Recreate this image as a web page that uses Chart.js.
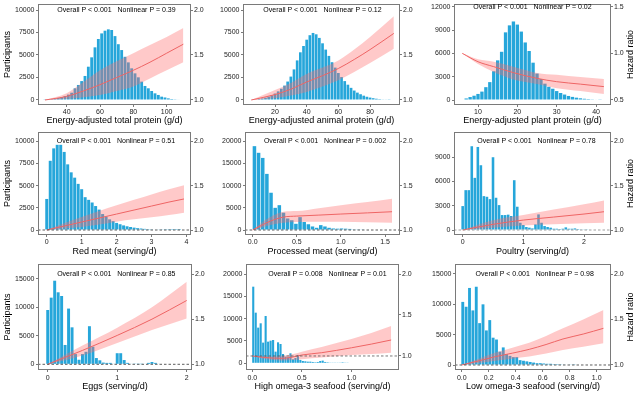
<!DOCTYPE html>
<html>
<head>
<meta charset="utf-8">
<script src="https://cdn.jsdelivr.net/npm/chart.js@4.4.1/dist/chart.umd.min.js"></script>
<style>
  body { margin: 0; background: #fff; }
  #wrap { position: relative; width: 640px; height: 393px; overflow: hidden; background: #fff; }
  canvas { position: absolute; }
</style>
</head>
<body>
<div id="wrap">
  <canvas id="c1"></canvas><canvas id="c2"></canvas><canvas id="c3"></canvas>
  <canvas id="c4"></canvas><canvas id="c5"></canvas><canvas id="c6"></canvas>
  <canvas id="c7"></canvas><canvas id="c8"></canvas><canvas id="c9"></canvas>
</div>
<script>
// ---- data ----
// histogram bins (x) and participants per bin, spline HR with 95% CI

// total protein
const bins1 = [27,29,31,33,35,37,39,41,43,45,47,49,51,53,55,57,59,61,63,65,67,69,71,73,75,77,79,81,83,85,87,89,91,93,95,97,99,101,103,105,107];
const counts1 = [30,60,100,150,220,320,440,600,810,1300,1670,2100,2670,3700,4740,5850,6780,7400,7700,7850,7780,7100,6200,5550,4800,4180,3520,2960,2520,2040,1560,1300,1000,740,560,370,280,180,110,80,50];
const hrX1 = [27,40,50,60,70,80,90,100,110];
const hr1 = [1.0,1.04,1.10,1.17,1.25,1.33,1.42,1.52,1.62];
const hrHi1 = [1.0,1.075,1.20,1.33,1.43,1.52,1.61,1.70,1.80];
const hrLo1 = [1.0,1.01,1.03,1.055,1.10,1.15,1.24,1.33,1.42];

// animal protein
const bins2 = [6,8,10,12,14,16,18,20,22,24,26,28,30,32,34,36,38,40,42,44,46,48,50,52,54,56,58,60,62,64,66,68,70,72,74,76,78,80,82,84,86,88,90,92];
const counts2 = [40,70,110,170,260,370,520,720,960,1250,1600,2050,2600,3400,4400,5300,6000,6700,7200,7450,7300,6900,6300,5600,4900,4200,3600,3000,2550,2100,1700,1350,1050,820,640,480,360,270,200,140,100,70,45,30];
const hrX2 = [5,20,30,40,50,60,70,80,95];
const hr2 = [1.0,1.06,1.12,1.20,1.27,1.35,1.45,1.56,1.74];
const hrHi2 = [1.0,1.11,1.19,1.29,1.36,1.44,1.56,1.70,1.93];
const hrLo2 = [1.0,1.02,1.05,1.09,1.15,1.22,1.31,1.41,1.57];

// plant protein
const bins3 = [7,8,9,10,11,12,13,14,15,16,17,18,19,20,21,22,23,24,25,26,27,28,29,30,31,32,33,34,35,36,37,38,39,40,41];
const counts3 = [200,380,550,780,1080,1650,2300,3700,5100,6200,8700,9600,10100,9700,8800,7400,6300,4800,3400,2700,2100,1700,1450,1150,900,700,520,400,300,220,160,120,90,60,40];
const hrX3 = [6,10,14,19,25,30,36,42];
const hr3 = [1.0,0.91,0.857,0.793,0.732,0.696,0.67,0.643];
const hrHi3 = [1.0,0.936,0.91,0.857,0.79,0.77,0.745,0.725];
const hrLo3 = [1.0,0.886,0.80,0.72,0.67,0.625,0.595,0.564];

// red meat
const bins4 = [0,0.1,0.2,0.3,0.4,0.5,0.6,0.7,0.8,0.9,1.0,1.1,1.2,1.3,1.4,1.5,1.6,1.7,1.8,1.9,2.0,2.1,2.2,2.3,2.4,2.5,2.6,2.7,2.8,2.9,3.0,3.1,3.2,3.3,3.4,3.5,3.6,3.7,3.8];
const counts4 = [3500,7800,9200,9600,9600,8800,7400,6500,5900,5200,4600,3700,3400,3100,2700,2300,1800,1500,1200,1000,800,650,520,420,340,270,210,170,130,100,80,60,45,35,25,18,12,8,5];
const hrX4 = [0,0.5,1,1.5,2,2.5,3,3.5,3.93];
const hr4 = [1.0,1.045,1.09,1.135,1.18,1.225,1.27,1.315,1.35];
const hrHi4 = [1.0,1.075,1.146,1.215,1.28,1.34,1.40,1.46,1.505];
const hrLo4 = [1.0,1.017,1.034,1.062,1.094,1.12,1.145,1.17,1.195];

// processed meat
const bins5 = [0.02,0.067,0.114,0.161,0.208,0.255,0.302,0.349,0.396,0.443,0.49,0.537,0.584,0.631,0.678,0.725,0.772,0.819,0.866,0.913,0.96,1.007,1.054,1.101,1.148,1.195,1.242];
const counts5 = [18900,17400,16250,12650,8400,5000,5600,3900,2600,2200,1400,2900,1800,1300,800,500,1100,800,500,350,300,350,300,250,150,150,80];
const hrX5 = [0,0.1,0.2,0.35,0.5,0.75,1.0,1.3,1.58];
const hr5 = [1.0,1.052,1.10,1.146,1.157,1.168,1.18,1.193,1.206];
const hrHi5 = [1.0,1.082,1.146,1.206,1.213,1.245,1.28,1.315,1.352];
const hrLo5 = [1.0,1.026,1.056,1.082,1.09,1.092,1.094,1.088,1.082];

// poultry
const bins6 = [0,0.05,0.1,0.15,0.2,0.25,0.3,0.35,0.4,0.45,0.5,0.55,0.6,0.65,0.7,0.75,0.8,0.85,0.9,0.95,1.0,1.05,1.1,1.15,1.2,1.25,1.3,1.35,1.4,1.45,1.5,1.55,1.6,1.65,1.7,1.75,1.8,1.85,1.9,1.95,2.0,2.05];
const counts6 = [2960,4930,4930,10360,6450,10270,8010,4190,4110,3820,9000,3990,3080,1850,1850,1900,1730,6160,2880,900,620,370,290,200,700,1930,900,490,370,290,160,160,120,160,330,160,160,200,120,80,80,40];
const hrX6 = [0,0.5,1.0,1.5,2.0,2.33];
const hr6 = [1.0,1.064,1.112,1.146,1.18,1.206];
const hrHi6 = [1.0,1.11,1.169,1.23,1.29,1.333];
const hrLo6 = [1.0,1.026,1.052,1.065,1.075,1.082];

// eggs
const bins7 = [0,0.05,0.1,0.15,0.2,0.25,0.3,0.35,0.4,0.45,0.5,0.55,0.6,0.65,0.7,0.75,0.8,0.85,0.9,0.95,1.0,1.05,1.1,1.15,1.2,1.25,1.3,1.35,1.4,1.45,1.5,1.55,1.6];
const counts7 = [9550,11720,14700,12660,12010,3400,9800,6500,1800,800,1800,2200,6700,3100,1100,700,300,250,250,100,1950,1950,750,250,100,50,30,30,80,250,400,250,80];
const hrX7 = [0,0.5,1.0,1.5,2.0];
const hr7 = [1.0,1.154,1.32,1.5,1.707];
const hrHi7 = [1.0,1.207,1.406,1.632,1.914];
const hrLo7 = [1.0,1.098,1.237,1.38,1.508];

// high omega-3 seafood
const bins8 = [0.01,0.035,0.06,0.085,0.11,0.135,0.16,0.185,0.21,0.235,0.26,0.285,0.31,0.335,0.36,0.385,0.41,0.435,0.46,0.485,0.51,0.535,0.56,0.585,0.61,0.635,0.66,0.685,0.71,0.735,0.76,0.785,0.81,0.835,0.86,0.885,0.91,0.935,0.96];
const counts8 = [17160,11340,7990,8960,4630,10600,4850,5070,5220,2610,4700,4330,2090,1490,1340,2240,900,1190,1870,750,520,450,370,370,300,220,300,520,600,300,220,150,150,150,75,150,220,150,75];
const hrX8 = [0,0.1,0.2,0.3,0.4,0.5,0.7,1.0,1.2,1.4];
const hr8 = [1.0,0.985,0.975,0.972,0.985,1.012,1.04,1.10,1.145,1.195];
const hrHi8 = [1.0,0.995,0.995,1.0,1.02,1.053,1.11,1.207,1.28,1.366];
const hrLo8 = [1.0,0.97,0.955,0.945,0.95,0.96,0.98,1.012,1.025,1.04];

// low omega-3 seafood
const bins9 = [0.0075,0.0325,0.0575,0.0825,0.1075,0.1325,0.1575,0.1825,0.2075,0.2325,0.2575,0.2825,0.3075,0.3325,0.3575,0.3825,0.4075,0.4325,0.4575,0.4825,0.5075,0.5325,0.5575,0.5825,0.6075,0.6325,0.6575,0.6825,0.7075,0.7325,0.7575,0.7825,0.8075,0.8325];
const counts9 = [10400,9600,12700,9000,12900,6900,10000,5700,7400,4500,4200,2200,2900,1800,1500,1300,1300,800,700,600,500,400,300,300,250,200,200,150,150,120,100,80,60,40];
const hrX9 = [0,0.125,0.25,0.375,0.5,0.625,0.75,0.9,1.05];
const hr9 = [1.0,1.045,1.092,1.13,1.172,1.225,1.286,1.34,1.403];
const hrHi9 = [1.0,1.07,1.136,1.19,1.245,1.32,1.403,1.50,1.604];
const hrLo9 = [1.0,1.022,1.048,1.07,1.092,1.125,1.165,1.20,1.238];

// tick labels
const xTicks1 = ['40','60','80','100'];
const xTicks2 = ['20','40','60','80'];
const xTicks3 = ['10','20','30','40'];
const xTicks4 = ['0','1','2','3','4'];
const xTicks5 = ['0.0','0.5','1.0','1.5'];
const xTicks6 = ['0','1','2'];
const xTicks7 = ['0','1','2'];
const xTicks8 = ['0.0','0.5','1.0'];
const xTicks9 = ['0.0','0.2','0.4','0.6','0.8','1.0'];
const yTicks10k = ['0','2500','5000','7500','10000'];
const yTicks12k = ['0','3000','6000','9000','12000'];
const yTicks20k = ['0','5000','10000','15000','20000'];
const yTicks9k = ['0','3000','6000','9000'];
const yTicks15k = ['0','5000','10000','15000'];
const hrTicks = ['1.0','1.5','2.0'];
const hrTicksPlant = ['0.5','1.0','1.5'];

const xTitles = [
  'Energy-adjusted total protein (g/d)', 'Energy-adjusted animal protein (g/d)', 'Energy-adjusted plant protein (g/d)',
  'Red meat (serving/d)', 'Processed meat (serving/d)', 'Poultry (serving/d)',
  'Eggs (serving/d)', 'High omega-3 seafood (serving/d)', 'Low omega-3 seafood (serving/d)'
];
const pTexts = [
  'Overall P < 0.001   Nonlinear P = 0.39', 'Overall P < 0.001   Nonlinear P = 0.12', 'Overall P < 0.001   Nonlinear P = 0.02',
  'Overall P < 0.001   Nonlinear P = 0.51', 'Overall P < 0.001   Nonlinear P = 0.002', 'Overall P < 0.001   Nonlinear P = 0.78',
  'Overall P < 0.001   Nonlinear P = 0.85', 'Overall P = 0.008   Nonlinear P = 0.01', 'Overall P < 0.001   Nonlinear P = 0.98'
];

// ---- styling ----
const F = '"Liberation Sans", Arial, sans-serif';
const BAR = 'rgb(38,166,218)';
const BAND = 'rgba(255,105,105,0.36)';
const LINE = 'rgb(238,100,100)';
const AX = '#7a7a7a';
const TXT = '#222';

const panels = [
  {id:'c1', left:0,   top:0,   w:210, h:128, lw:38, rw:19, pad:4, bh:23, tpad:2.5, tkp:1, bins:bins1, counts:counts1, hrX:hrX1, hr:hr1, hi:hrHi1, lo:hrLo1,
   xr:[22.8,114.6], yr:[-556,10667], hr2:[0.9444,2.0667], xt:xTicks1, yt:yTicks10k, ht:hrTicks, textAt:2.0, dx:2, yTitle:true},
  {id:'c2', left:210, top:0,   w:210, h:128, lw:33, rw:20, pad:4, bh:23, tpad:2.5, tkp:1, bins:bins2, counts:counts2, hrX:hrX2, hr:hr2, hi:hrHi2, lo:hrLo2,
   xr:[-0.2,98.9], yr:[-556,10667], hr2:[0.9444,2.0667], xt:xTicks2, yt:yTicks10k, ht:hrTicks, textAt:2.0, dx:1},
  {id:'c3', left:420, top:0,   w:220, h:128, lw:34, rw:29, pad:4, bh:23, tpad:2.5, tkp:1, bins:bins3, counts:counts3, hrX:hrX3, hr:hr3, hi:hrHi3, lo:hrLo3,
   xr:[3.9,43.8], yr:[-643,12347], hr2:[0.446,1.529], xt:xTicks3, yt:yTicks12k, ht:hrTicksPlant, textAt:1.5, dx:0, hrTitle:true},
  {id:'c4', left:0,   top:128, w:210, h:132, lw:38, rw:19, pad:4, bh:25, tpad:3.5, tkp:1, bins:bins4, counts:counts4, hrX:hrX4, hr:hr4, hi:hrHi4, lo:hrLo4,
   xr:[-0.25,4.13], yr:[-562,11045], hr2:[0.9438,2.1045], xt:xTicks4, yt:yTicks10k, ht:hrTicks, textAt:2.0, dx:1.5, yTitle:true, ref:'#333'},
  {id:'c5', left:210, top:128, w:210, h:132, lw:35, rw:20, pad:4, bh:25, tpad:3.5, tkp:1, bins:bins5, counts:counts5, hrX:hrX5, hr:hr5, hi:hrHi5, lo:hrLo5,
   xr:[-0.087,1.67], yr:[-1124,22090], hr2:[0.9438,2.1045], xt:xTicks5, yt:yTicks20k, ht:hrTicks, textAt:2.0, dx:2.5, ref:'#333'},
  {id:'c6', left:420, top:128, w:220, h:132, lw:34, rw:29, pad:4, bh:25, tpad:3.5, tkp:1, bins:bins6, counts:counts6, hrX:hrX6, hr:hr6, hi:hrHi6, lo:hrLo6,
   xr:[-0.143,2.445], yr:[-616,12120], hr2:[0.9438,2.1045], xt:xTicks6, yt:yTicks9k, ht:hrTicks, textAt:2.0, dx:4, hrTitle:true, ref:'#888'},
  {id:'c7', left:0,   top:260, w:210, h:133, lw:38, rw:18, pad:4, bh:23, tpad:1, tkp:2, bins:bins7, counts:counts7, hrX:hrX7, hr:hr7, hi:hrHi7, lo:hrLo7,
   xr:[-0.14,2.076], yr:[-1002,17637], hr2:[0.9369,2.111], xt:xTicks7, yt:yTicks15k, ht:hrTicks, textAt:2.0, dx:1.3, yTitle:true, ref:'#333'},
  {id:'c8', left:210, top:260, w:210, h:133, lw:36, rw:21, pad:4, bh:23, tpad:1, tkp:2, bins:bins8, counts:counts8, hrX:hrX8, hr:hr8, hi:hrHi8, lo:hrLo8,
   xr:[-0.063,1.479], yr:[-1500,22240], hr2:[0.829,2.122], xt:xTicks8, yt:yTicks20k, ht:hrTicks, textAt:2.0, dx:5, ref:'#555'},
  {id:'c9', left:420, top:260, w:220, h:133, lw:35, rw:29, pad:4, bh:23, tpad:1, tkp:2, bins:bins9, counts:counts9, hrX:hrX9, hr:hr9, hi:hrHi9, lo:hrLo9,
   xr:[-0.05,1.106], yr:[-824,16648], hr2:[0.945,2.11], xt:xTicks9, yt:yTicks15k, ht:hrTicks, textAt:2.0, dx:1.7, hrTitle:true, ref:'#333'}
];

panels.forEach((p, k) => {
  const cv = document.getElementById(p.id);
  cv.width = p.w; cv.height = p.h;
  cv.style.left = p.left + 'px'; cv.style.top = p.top + 'px';

  const pts = (xs, ys) => xs.map((x, i) => ({x: x, y: ys[i]}));
  const datasets = [
    {type: 'bar', data: pts(p.bins, p.counts), yAxisID: 'y', backgroundColor: BAR,
     barPercentage: 0.85, categoryPercentage: 1, order: 5},
    {type: 'line', data: pts(p.hrX, p.hi), yAxisID: 'y2', borderWidth: 0, pointRadius: 0,
     fill: '+1', backgroundColor: BAND, cubicInterpolationMode: 'monotone', order: 4},
    {type: 'line', data: pts(p.hrX, p.lo), yAxisID: 'y2', borderWidth: 0, pointRadius: 0,
     fill: false, cubicInterpolationMode: 'monotone', order: 3},
    {type: 'line', data: pts(p.hrX, p.hr), yAxisID: 'y2', borderColor: LINE, borderWidth: 1, pointRadius: 0,
     fill: false, cubicInterpolationMode: 'monotone', order: 2}
  ];
  if (p.ref) {
    datasets.push({type: 'line', data: [{x: p.xr[0], y: 1}, {x: p.xr[1], y: 1}], yAxisID: 'y2',
      borderColor: p.ref, borderWidth: 0.8, borderDash: [2.5, 2], pointRadius: 0, fill: false, order: 1});
  }

  const tickFont = {size: 7, family: F};
  const grid = {display: true, drawOnChartArea: false, drawTicks: true, tickLength: 2, color: AX, offset: false};

  // box, p-value text and right-hand title
  const decor = {
    id: 'decor',
    afterDraw(chart) {
      const ctx = chart.ctx, a = chart.chartArea;
      ctx.save();
      ctx.strokeStyle = AX; ctx.lineWidth = 1;
      ctx.strokeRect(Math.round(a.left) + 0.5, Math.round(a.top) + 0.5, Math.round(a.right - a.left) - 1, Math.round(a.bottom - a.top) - 1);
      ctx.fillStyle = '#000';
      ctx.font = '7px ' + F;
      ctx.textAlign = 'center'; ctx.textBaseline = 'middle';
      ctx.fillText(pTexts[k], (a.left + a.right) / 2 + p.dx, chart.scales.y2.getPixelForValue(p.textAt));
      if (p.hrTitle) {
        ctx.translate(chart.width - 9, (a.top + a.bottom) / 2);
        ctx.rotate(-Math.PI / 2);
        ctx.font = '9px ' + F; ctx.fillStyle = '#000';
        ctx.fillText('Hazard ratio', 0, 0);
      }
      ctx.restore();
    }
  };

  new Chart(cv, {
    type: 'bar',
    data: {datasets: datasets},
    options: {
      responsive: false,
      animation: false,
      devicePixelRatio: 1,
      layout: {padding: {top: p.pad, left: 0, right: 0, bottom: 0}},
      plugins: {legend: {display: false}, tooltip: {enabled: false}},
      scales: {
        x: {
          type: 'linear', position: 'bottom', min: p.xr[0], max: p.xr[1], offset: false,
          grid: grid, border: {display: false},
          ticks: {font: tickFont, color: TXT, padding: p.tkp, maxRotation: 0, autoSkip: false,
                  callback: (v, i) => p.xt[i]},
          afterBuildTicks: s => { s.ticks = p.xt.map(t => ({value: parseFloat(t)})); },
          afterFit: s => { s.height = p.bh; s.paddingLeft = 0; s.paddingRight = 0; },
          title: {display: true, text: xTitles[k], font: {size: 9, family: F}, color: '#000',
                  padding: {top: 0, bottom: p.tpad}}
        },
        y: {
          type: 'linear', position: 'left', min: p.yr[0], max: p.yr[1],
          grid: grid, border: {display: false},
          ticks: {font: tickFont, color: TXT, padding: 1.5, callback: (v, i) => p.yt[i]},
          afterBuildTicks: s => { s.ticks = p.yt.map(t => ({value: parseFloat(t)})); },
          afterFit: s => { s.width = p.lw; s.paddingTop = 0; s.paddingBottom = 0; },
          title: {display: !!p.yTitle, text: 'Participants', font: {size: 9, family: F}, color: '#000',
                  padding: {top: 2.5, bottom: 0}}
        },
        y2: {
          type: 'linear', position: 'right', min: p.hr2[0], max: p.hr2[1],
          grid: grid, border: {display: false},
          ticks: {font: tickFont, color: TXT, padding: 1, callback: (v, i) => p.ht[i]},
          afterBuildTicks: s => { s.ticks = p.ht.map(t => ({value: parseFloat(t)})); },
          afterFit: s => { s.width = p.rw; s.paddingTop = 0; s.paddingBottom = 0; }
        }
      }
    },
    plugins: [decor]
  });
});
</script>
</body>
</html>
